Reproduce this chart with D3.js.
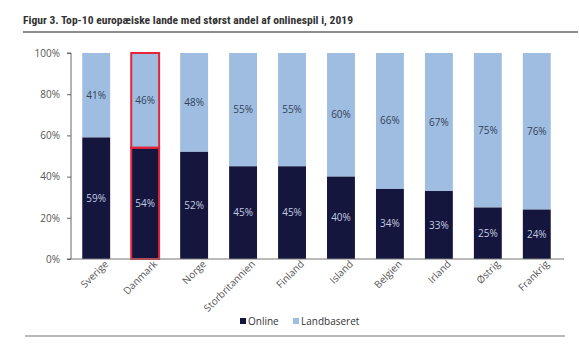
<!DOCTYPE html>
<html>
<head>
<meta charset="utf-8">
<script src="https://cdn.jsdelivr.net/npm/d3@7"></script>
<style>
  body { margin: 0; background: #fff; }
  svg { display: block; font-family: 'Open Sans', sans-serif; }
</style>
</head>
<body>
<div id="chart"></div>
<script>
const countries = ['Sverige', 'Danmark', 'Norge', 'Storbritannien', 'Finland', 'Island', 'Belgien', 'Irland', 'Østrig', 'Frankrig']
const online = [59, 54, 52, 45, 45, 40, 34, 33, 25, 24]
const landbaseret = [41, 46, 48, 55, 55, 60, 66, 67, 75, 76]
const yTicks = [0, 20, 40, 60, 80, 100]
const highlight = 'Danmark'

const W = 579, H = 354
const margin = { top: 53, left: 71, right: 17, bottom: 95 }

const svg = d3.select('#chart').append('svg').attr('width', W).attr('height', H)

// title + rules
svg.append('text').text('Figur 3. Top-10 europæiske lande med størst andel af onlinespil i, 2019')
  .attr('x', 23).attr('y', 24).attr('font-size', '10.5px').attr('font-weight', 'bold')
  .attr('fill', '#333').attr('font-family', 'Roboto Condensed, Liberation Sans Narrow, Roboto, sans-serif')
  .attr('textLength', 330).attr('lengthAdjust', 'spacingAndGlyphs')
svg.append('line').attr('x1', 23).attr('x2', 578).attr('y1', 32).attr('y2', 32)
  .attr('stroke', '#666').attr('stroke-width', 1.5)
svg.append('line').attr('x1', 25).attr('x2', 565).attr('y1', 336).attr('y2', 336)
  .attr('stroke', '#777').attr('stroke-width', 1.2)

const x = d3.scaleBand().domain(countries).range([margin.left, W - margin.right]).paddingInner(0.43).paddingOuter(0.23)
const y = d3.scaleLinear().domain([0, 100]).range([259, margin.top])

const rows = countries.map((c, i) => ({ c, online: online[i], land: landbaseret[i] }))

const g = svg.append('g')
const bars = g.selectAll('g.bar').data(rows).enter().append('g').attr('class', 'bar')

bars.append('rect')
  .attr('x', d => x(d.c)).attr('width', x.bandwidth())
  .attr('y', d => y(d.online + d.land)).attr('height', d => y(d.online) - y(d.online + d.land))
  .attr('fill', '#9ebde0')
bars.append('rect')
  .attr('x', d => x(d.c)).attr('width', x.bandwidth())
  .attr('y', d => y(d.online)).attr('height', d => y(0) - y(d.online))
  .attr('fill', '#15163d')

// red outline on Danmark
bars.filter(d => d.c === highlight).each(function(d) {
  const s = d3.select(this)
  s.append('rect')
    .attr('x', x(d.c)).attr('width', x.bandwidth())
    .attr('y', y(d.online + d.land)).attr('height', y(d.online) - y(d.online + d.land))
    .attr('fill', 'none').attr('stroke', '#e3263a').attr('stroke-width', 2)
  s.append('rect')
    .attr('x', x(d.c)).attr('width', x.bandwidth())
    .attr('y', y(d.online)).attr('height', y(0) - y(d.online))
    .attr('fill', 'none').attr('stroke', '#e3263a').attr('stroke-width', 2)
})

bars.append('text')
  .attr('x', d => x(d.c) + x.bandwidth() / 2)
  .attr('y', d => y(d.online / 2))
  .attr('dy', '0.35em').attr('text-anchor', 'middle')
  .attr('font-size', '10px').attr('fill', '#c3cbe0')
  .text(d => d.online + '%')
bars.append('text')
  .attr('x', d => x(d.c) + x.bandwidth() / 2)
  .attr('y', d => y(d.online + d.land / 2))
  .attr('dy', '0.35em').attr('text-anchor', 'middle')
  .attr('font-size', '10px').attr('fill', '#34425a')
  .text(d => d.land + '%')

// y axis
const yAxis = d3.axisLeft(y).tickValues(yTicks).tickFormat(d => d + '%').tickSize(4).tickPadding(7)
const ya = svg.append('g').attr('transform', 'translate(' + margin.left + ',0)').call(yAxis)
ya.select('.domain').attr('stroke', '#666').attr('d', 'M-4,' + y(100) + 'H0V' + y(0) + 'H-4')
ya.selectAll('line').attr('stroke', '#666')
ya.selectAll('text').attr('font-size', '10px').attr('fill', '#555').attr('font-family', 'Open Sans, sans-serif')

// x axis
const xAxis = d3.axisBottom(x).tickSize(0).tickPadding(7)
const xa = svg.append('g').attr('transform', 'translate(0,' + y(0) + ')').call(xAxis)
xa.select('.domain').attr('stroke', '#777').attr('stroke-width', 1.2)
  .attr('d', 'M' + margin.left + ',0H' + (W - margin.right + 2))
xa.selectAll('text')
  .attr('font-size', '10px').attr('fill', '#555').attr('font-family', 'Open Sans, sans-serif')
  .style('text-anchor', 'end')
  .attr('dx', '0.5em').attr('dy', '0.6em')
  .attr('transform', 'rotate(-45)')

// legend
const legend = [['Online', '#15163d', 240], ['Landbaseret', '#9ebde0', 293]]
legend.forEach(([name, col, lx]) => {
  svg.append('rect').attr('x', lx).attr('y', 318).attr('width', 6).attr('height', 6).attr('fill', col)
  svg.append('text').text(name).attr('x', lx + 8).attr('y', 325)
    .attr('font-size', '10px').attr('fill', '#333').attr('font-family', 'Open Sans, sans-serif')
})
</script>
</body>
</html>
